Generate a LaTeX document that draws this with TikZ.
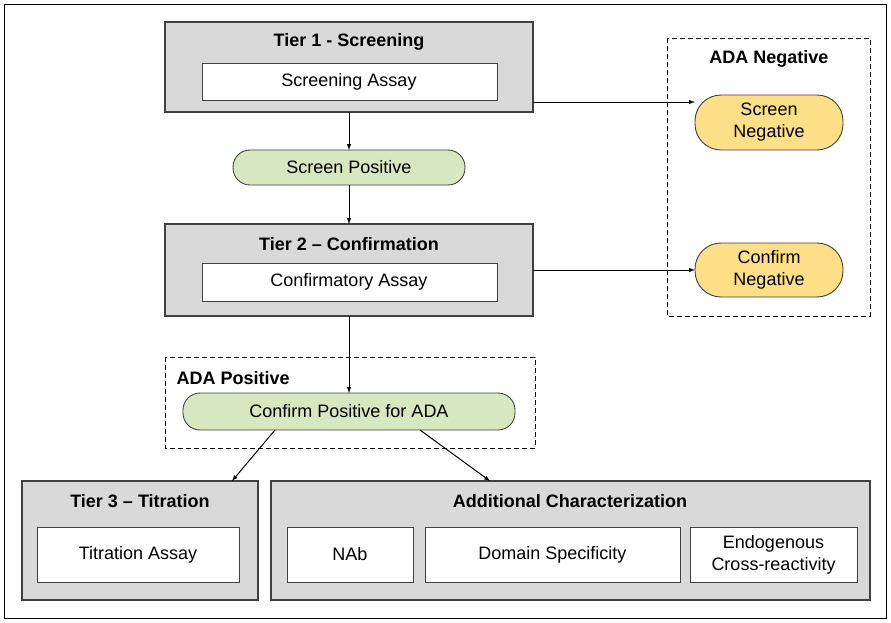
\documentclass[tikz,border=0pt]{standalone}
\usepackage{fontspec}
\setmainfont{Liberation Sans}
\begin{document}
\begin{tikzpicture}[x=1pt,y=-1pt,
  font=\fontsize{18}{21}\selectfont,
  tier/.style={draw=black!75,line width=1.2pt,fill=black!15},
  inner/.style={draw=black!75,line width=0.9pt,fill=white},
  pillg/.style={draw=black!75,line width=0.9pt,fill=green!25!olive!25!white,rounded corners=17pt},
  pilly/.style={draw=black!75,line width=0.9pt,fill=yellow!50!orange!45!white,rounded corners=26pt},
  dbox/.style={draw=black,line width=0.9pt,dash pattern=on 5pt off 3pt},
  title/.style={font=\fontsize{18}{21}\selectfont\bfseries},
  arr/.style={->,>=latex,line width=1pt}]
\useasboundingbox (0,0) rectangle (891,622);
\draw[line width=1pt] (4,4) rectangle (886,618);
% Tier 1
\draw[tier] (165,22) rectangle (533,112);
\node[title] (t1) at (349,42) {Tier 1 - Screening};
\draw[inner] (202,63) rectangle (497,100);
\node (sa) at (349,81.5) {Screening Assay};
% Screen positive
\draw[pillg] (233,150) rectangle (465,185);
\node (sp) at (349,167.5) {Screen Positive};
% Tier 2
\draw[tier] (165,224) rectangle (533,316);
\node[title] (t2) at (349,244) {Tier 2 – Confirmation};
\draw[inner] (202,263) rectangle (497,301);
\node (ca) at (349,282) {Confirmatory Assay};
% ADA negative
\draw[dbox] (667,38) rectangle (870,316);
\node[title] (an) at (769,59) {ADA Negative};
\draw[pilly] (695,95) rectangle (843,150);
\node[align=center,font=\fontsize{18}{22}\selectfont] (sn) at (769,122.5) {Screen\\Negative};
\draw[pilly] (695,243) rectangle (843,297);
\node[align=center,font=\fontsize{18}{22}\selectfont] (cn) at (769,270) {Confirm\\Negative};
% ADA positive
\draw[dbox] (165,357) rectangle (535,448);
\node[title,anchor=west] (ap) at (173,378) {ADA Positive};
\draw[pillg] (183,393) rectangle (515,430);
\node (cp) at (349,411.5) {Confirm Positive for ADA};
% Tier 3
\draw[tier] (22,481) rectangle (258,600);
\node[title] (t3) at (140,501) {Tier 3 – Titration};
\draw[inner] (37,527) rectangle (239,582);
\node (ta) at (138,554.5) {Titration Assay};
% Additional
\draw[tier] (271,481) rectangle (870,600);
\node[title] (ac) at (570,501) {Additional Characterization};
\draw[inner] (287,527) rectangle (413,582);
\node (nab) at (350,554.5) {NAb};
\draw[inner] (425,527) rectangle (680,582);
\node (ds) at (552.5,554.5) {Domain Specificity};
\draw[inner] (690,527) rectangle (857,582);
\node[align=center,font=\fontsize{18}{22}\selectfont] (ec) at (773.5,554.5) {Endogenous\\Cross-reactivity};
% arrows
\draw[arr] (349,112) -- (349,150);
\draw[arr] (349,185) -- (349,224);
\draw[arr] (349,316) -- (349,393);
\draw[arr] (533,102) -- (695,102);
\draw[arr] (533,270) -- (695,270);
\draw[arr] (275,430) -- (232,481);
\draw[arr] (420,430) -- (490,481);
\end{tikzpicture}
\end{document}
